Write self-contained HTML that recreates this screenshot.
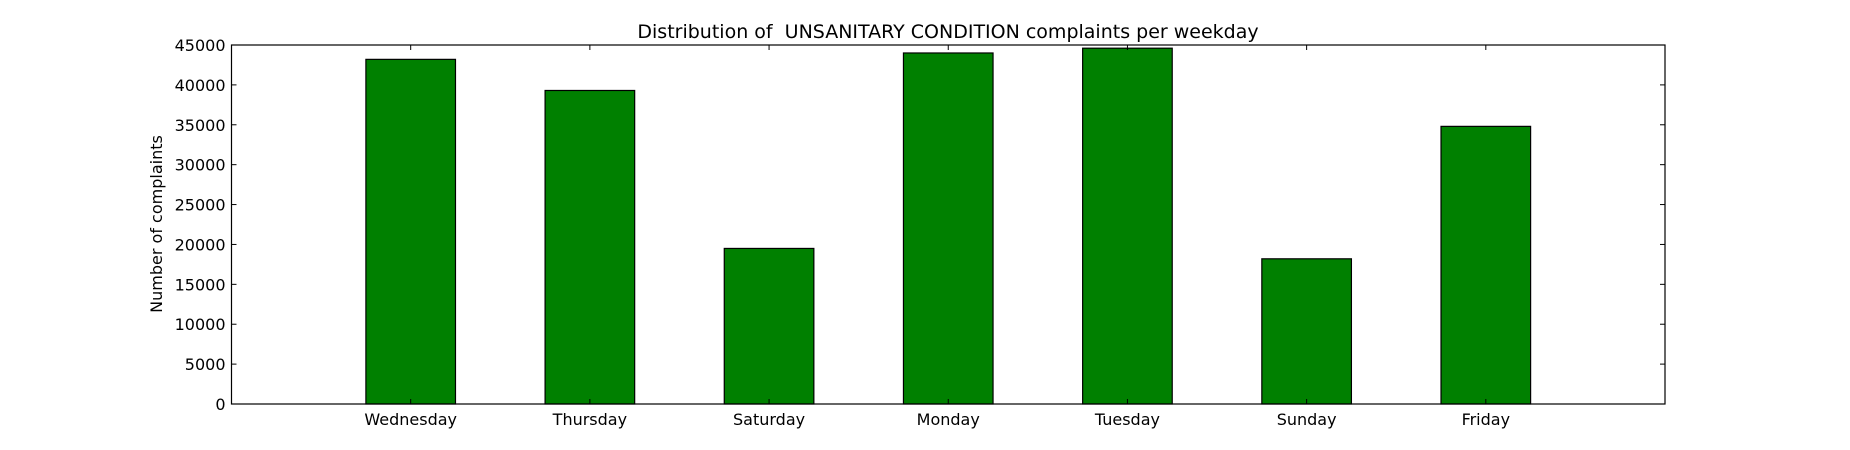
<!DOCTYPE html>
<html><head><meta charset="utf-8"><style>
html,body{margin:0;padding:0;background:#fff}
svg{display:block;font-family:"DejaVu Sans","Liberation Sans",sans-serif}
</style></head><body>
<svg id="chart" width="1850" height="450">
<text x="948" y="38" text-anchor="middle" font-size="19" style="white-space:pre">Distribution of  UNSANITARY CONDITION complaints per weekday</text>
<text transform="translate(162,224) rotate(-90)" text-anchor="middle" font-size="16">Number of complaints</text>
<g id="bars"></g><g id="axes"></g>
</svg>
<script>
const categories=["Wednesday","Thursday","Saturday","Monday","Tuesday","Sunday","Friday"];
const values=[43200,39300,19500,44000,44600,18200,34800];
const yTicks=[0,5000,10000,15000,20000,25000,30000,35000,40000,45000];
const L=231.5,R=1665,T=45,B=404,yMax=45000;
const unit=(R-L)/(categories.length+1);
const x=i=>L+unit*(i+1);
const y=v=>B-(B-T)*v/yMax;
const NS="http://www.w3.org/2000/svg";
const bars=document.getElementById('bars'),axes=document.getElementById('axes');
function mk(tag,attrs,parent){const e=document.createElementNS(NS,tag);for(const k in attrs)e.setAttribute(k,attrs[k]);parent.appendChild(e);return e;}
values.forEach((v,i)=>{
 const r=mk('rect',{x:x(i)-unit/4,y:y(v),width:unit/2,height:B-y(v),fill:'#008000',stroke:'#000','stroke-width':1.2},bars);
 
 
 mk('line',{x1:x(i),x2:x(i),y1:B,y2:B-5,stroke:'#000'},axes);
 mk('line',{x1:x(i),x2:x(i),y1:T,y2:T+5,stroke:'#000'},axes);
 const t=mk('text',{x:x(i),y:B+21,'text-anchor':'middle','font-size':16},axes);
 t.textContent=categories[i];
 
 
});
yTicks.forEach(v=>{
 mk('line',{x1:L,x2:L+5,y1:y(v),y2:y(v),stroke:'#000'},axes);
 mk('line',{x1:R,x2:R-5,y1:y(v),y2:y(v),stroke:'#000'},axes);
 const t=mk('text',{x:L-6,y:y(v)+6,'text-anchor':'end','font-size':16},axes);
 t.textContent=v;
 
 
});
const f=mk('rect',{x:L,y:T,width:R-L,height:B-T,fill:'none',stroke:'#000','stroke-width':1.2},axes);


</script>
</body></html>
